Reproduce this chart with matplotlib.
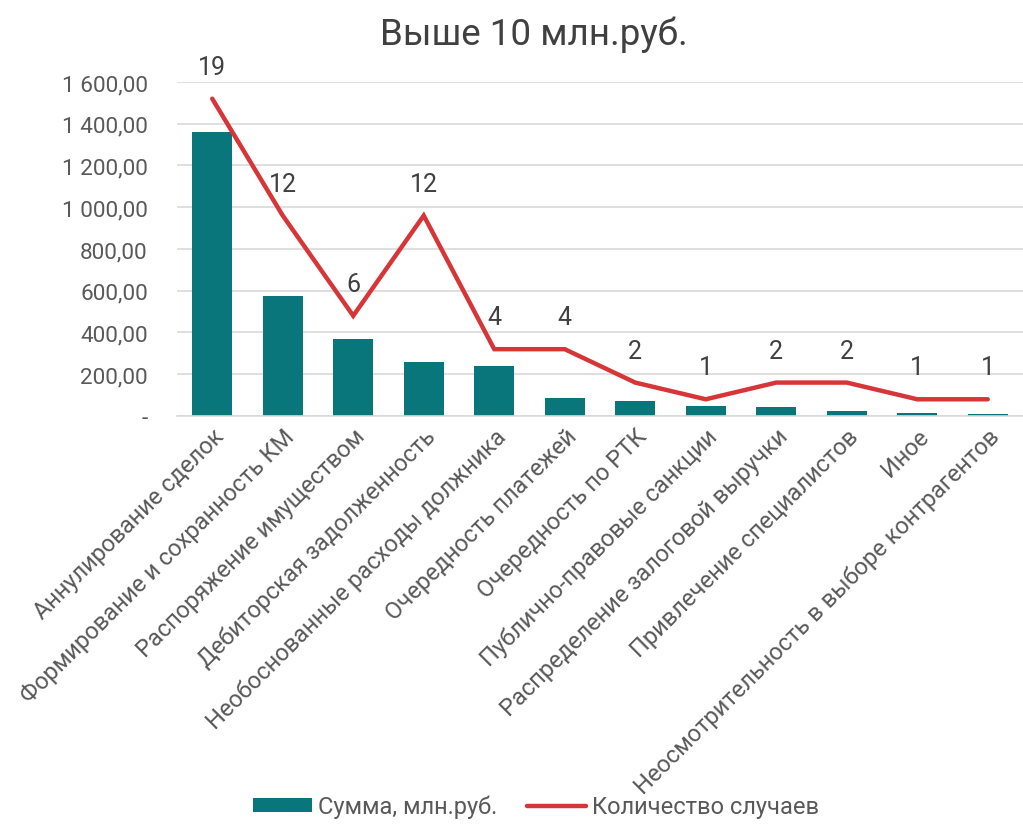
import matplotlib.pyplot as plt
from matplotlib.ticker import FuncFormatter

plt.rcParams['font.family'] = ['Roboto', 'DejaVu Sans']

# Data
categories = [
    'Аннулирование сделок',
    'Формирование и сохранность КМ',
    'Распоряжение имуществом',
    'Дебиторская задолженность',
    'Необоснованные расходы должника',
    'Очередность платежей',
    'Очередность по РТК',
    'Публично-правовые санкции',
    'Распределение залоговой выручки',
    'Привлечение специалистов',
    'Иное',
    'Неосмотрительность в выборе контрагентов',
]
amounts = [1360, 576, 369, 257, 241, 86, 73, 46, 44, 22, 14, 8]
counts = [19, 12, 6, 12, 4, 4, 2, 1, 2, 2, 1, 1]

teal = '#08767b'
red = '#d63638'
grey = '#595959'

fig = plt.figure(figsize=(10.23, 8.28), dpi=100)
ax = fig.add_axes([0.173, 0.4964, 0.827, 0.4034])
x = range(len(categories))

ax.bar(x, amounts, width=0.57, color=teal, zorder=2, label='Сумма, млн.руб.')
ax.set_ylim(0, 1600)
ax.set_xlim(-0.5, len(categories) - 0.5)
ax.set_yticks(range(0, 1601, 200))

def fmt(v, pos):
    if v == 0:
        return '-'
    s = f'{v:,.2f}'.replace(',', ' ').replace('.', ',')
    return s

ax.yaxis.set_major_formatter(FuncFormatter(fmt))
ax.grid(axis='y', color='#d9d9d9', linewidth=1.2, zorder=0)
ax.set_axisbelow(True)
for s in ['top', 'right', 'left']:
    ax.spines[s].set_visible(False)
ax.spines['bottom'].set_color('#d9d9d9')
ax.spines['bottom'].set_linewidth(1.2)
ax.tick_params(axis='y', length=0, labelsize=16.2, labelcolor=grey, pad=21)
ax.tick_params(axis='x', length=0, labelsize=17, labelcolor=grey, pad=6)
ax.set_xticks(list(x))
ax.set_xticklabels(categories, rotation=45, ha='right', rotation_mode='anchor')

ax2 = ax.twinx()
ax2.plot(list(x), counts, color=red, linewidth=3.2, solid_capstyle='round',
         solid_joinstyle='miter', label='Количество случаев', zorder=3)
ax2.set_ylim(0, 20)
ax2.axis('off')
for xi, c in zip(x, counts):
    ax2.annotate(str(c), (xi, c), xytext=(0, 23), textcoords='offset points',
                 ha='center', va='center', fontsize=18, color='#404040')

fig.text(0.522, 0.958, 'Выше 10 млн.руб.', ha='center', va='center',
         fontsize=26.5, color='#404040')

h1, l1 = ax.get_legend_handles_labels()
h2, l2 = ax2.get_legend_handles_labels()
fig.legend(h1 + h2, l1 + l2, loc='lower center', bbox_to_anchor=(0.524, -0.015),
           ncol=2, frameon=False, fontsize=17, labelcolor=grey,
           handlelength=2.5, handleheight=0.5, handletextpad=0.25,
           columnspacing=1.3)

fig.savefig('out.png', dpi=100)
